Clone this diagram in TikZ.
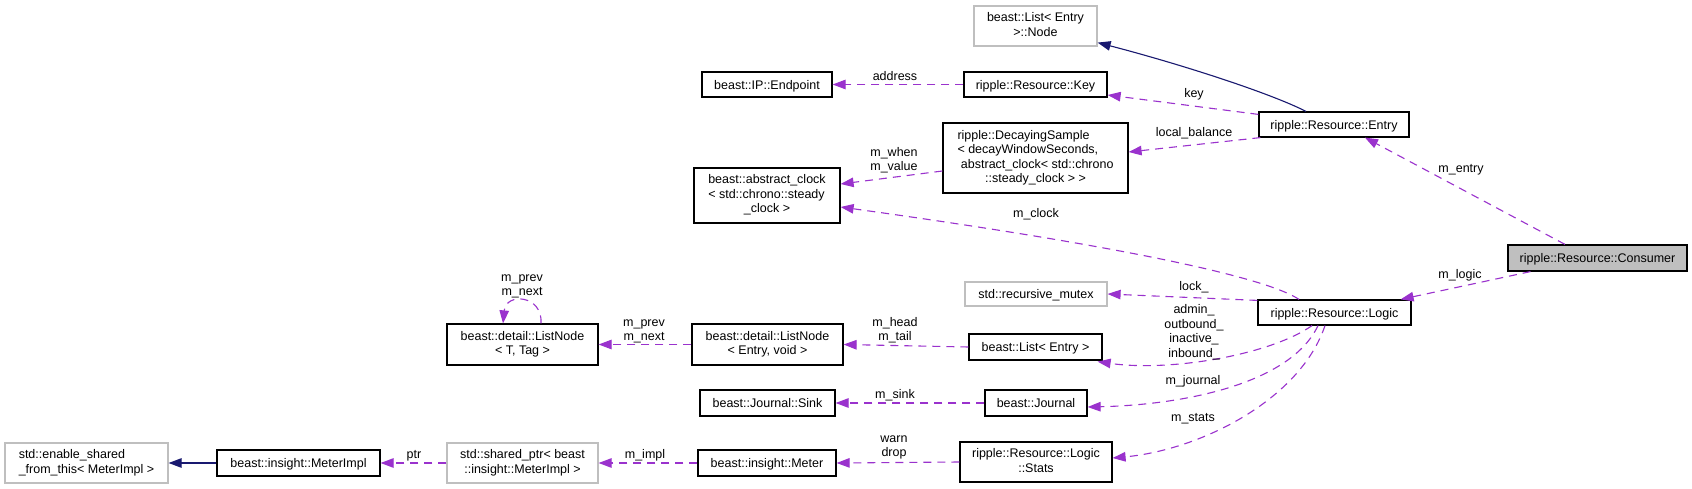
\documentclass[tikz,border=0pt]{standalone}
\usepackage{fontspec}
\setmainfont{Liberation Sans}
\usetikzlibrary{arrows.meta,calc}
\definecolor{orchid}{HTML}{9A32CD}
\definecolor{navyblue}{HTML}{191970}
\definecolor{grayline}{HTML}{BFBFBF}
\newcommand{\ml}[2][c]{\begin{tabular}{@{}#1@{}}#2\end{tabular}}
\tikzset{
  every node/.style={font=\fontsize{12.5}{14.5}\selectfont},
  cls/.style={draw=black, line width=1.2pt, fill=white, inner sep=0pt, text height=9.5pt, text depth=0pt},
  clsm/.style={draw=black, line width=1.2pt, fill=white, inner sep=0pt},
  ext/.style={draw=grayline},
  lbl/.style={inner sep=0pt, text height=8pt, text depth=0pt},
  lblm/.style={inner sep=0pt},
  mem/.style={draw=orchid, line width=1.1pt, dash pattern=on 8pt off 6pt, -{Triangle[length=13pt,width=9.5pt,fill=orchid]}},
  inh/.style={draw=navyblue, line width=1.1pt, -{Triangle[length=13pt,width=9.5pt,fill=navyblue]}},
}
\begin{document}
\begin{tikzpicture}[x=1pt,y=-1pt]
\useasboundingbox (0,0) rectangle (1692,489);
\fill[white] (0,0) rectangle (1692,489);

% nodes
\node[clsm, ext, minimum width=123pt, minimum height=40pt] (lnode) at (1035.5,26) {\ml{beast::List< Entry\\>::Node}};
\node[cls, minimum width=130pt, minimum height=25pt] (endpoint) at (767,84.5) {beast::IP::Endpoint};
\node[cls, minimum width=143pt, minimum height=25pt] (key) at (1035.5,84.5) {ripple::Resource::Key};
\node[clsm, minimum width=185pt, minimum height=70pt] (ds) at (1035.5,158) {\ml[l]{ripple::DecayingSample\\< decayWindowSeconds,\\\ abstract\_clock< std::chrono\\\multicolumn{1}{@{}c@{}}{::steady\_clock > >}}};
\node[clsm, minimum width=146pt, minimum height=55pt] (clock) at (767,195.5) {\ml[l]{beast::abstract\_clock\\< std::chrono::steady\\\multicolumn{1}{@{}c@{}}{\_clock >}}};
\node[cls, minimum width=150pt, minimum height=25pt] (entry) at (1334,124.5) {ripple::Resource::Entry};
\node[cls, fill=grayline, minimum width=179pt, minimum height=26pt] (consumer) at (1597.5,258) {ripple::Resource::Consumer};
\node[cls, minimum width=153pt, minimum height=25pt] (logic) at (1334.5,312.5) {ripple::Resource::Logic};
\node[cls, ext, minimum width=142pt, minimum height=24pt] (mutex) at (1036,294) {std::recursive\_mutex};
\node[clsm, minimum width=151pt, minimum height=41pt] (lnT) at (522.5,344.5) {\ml{beast::detail::ListNode\\< T, Tag >}};
\node[clsm, minimum width=151pt, minimum height=41pt] (lnE) at (767.5,344.5) {\ml{beast::detail::ListNode\\< Entry, void >}};
\node[cls, minimum width=133pt, minimum height=26pt] (listE) at (1035.5,347) {beast::List< Entry >};
\node[cls, minimum width=135pt, minimum height=26pt] (sink) at (767.5,403) {beast::Journal::Sink};
\node[cls, minimum width=102pt, minimum height=26pt] (journal) at (1036,403) {beast::Journal};
\node[cls, minimum width=138pt, minimum height=26pt] (meter) at (767,463) {beast::insight::Meter};
\node[clsm, minimum width=152pt, minimum height=40pt] (stats) at (1036,462) {\ml{ripple::Resource::Logic\\::Stats}};
\node[clsm, ext, minimum width=163pt, minimum height=40pt] (enable) at (86.5,463) {\ml[l]{std::enable\_shared\\\_from\_this< MeterImpl >}};
\node[cls, minimum width=163pt, minimum height=26pt] (meterimpl) at (298.5,463) {beast::insight::MeterImpl};
\node[clsm, ext, minimum width=151pt, minimum height=40pt] (sptr) at (522.5,463) {\ml{std::shared\_ptr< beast\\::insight::MeterImpl >}};

% edges
\draw[inh] ($(entry.north)+(-28,0)$) .. controls (1270,93) and (1180,64) .. ($(lnode.south east)+(0,-4)$);
\draw[mem] (key.west) -- (endpoint.east);
\draw[mem] ($(entry.north west)+(0,3)$) -- ($(key.east)+(0,10.5)$);
\draw[mem] ($(entry.south west)+(2,0)$) -- ($(ds.east)+(0,-6)$);
\draw[mem] ($(ds.west)+(0,13)$) -- ($(clock.east)+(0,-11.5)$);
\draw[mem] ($(logic.north)+(-35.5,0)$) .. controls (1270,280) and (1150,250) .. ($(clock.east)+(0,11.5)$);
\draw[mem] ($(consumer.north)+(-32.5,0)$) -- ($(entry.south)+(31,0)$);
\draw[mem] ($(consumer.south)+(-67,0)$) -- ($(logic.north east)+(-11,0)$);
\draw[mem] ($(logic.north west)+(0,1)$) -- (mutex.east);
\draw[mem] ($(logic.south)+(-22.5,0)$) .. controls (1270,355) and (1170,372) .. ($(listE.south east)+(-5,1)$);
\draw[mem] ($(logic.south)+(-16.5,0)$) .. controls (1290,385) and (1180,405) .. ($(journal.east)+(0,4)$);
\draw[mem] ($(logic.south)+(-9.5,0)$) .. controls (1300,400) and (1200,450) .. ($(stats.east)+(0,-4)$);
\draw[mem] ($(lnT.north)+(18.5,0)$) .. controls (543,295) and (506,292) .. ($(lnT.north)+(-19.5,0)$);
\draw[mem] (lnE.west) -- (lnT.east);
\draw[mem] (listE.west) -- (lnE.east);
\draw[mem] (journal.west) -- (sink.east);
\draw[mem] (stats.west) -- (meter.east);
\draw[mem] (meter.west) -- (sptr.east);
\draw[mem] (sptr.west) -- (meterimpl.east);
\draw[inh] (meterimpl.west) -- (enable.east);

% labels
\node[lbl] (laddr) at (895,77) {address};
\node[lbl] (lkey) at (1194,94) {key};
\node[lbl] (lbal) at (1194,133) {local\_balance};
\node[lblm] (lwhen) at (894,160.5) {\ml{m\_when\\m\_value}};
\node[lbl] (lclock) at (1036,214) {m\_clock};
\node[lbl] (lentry) at (1461,169) {m\_entry};
\node[lbl] (llogic) at (1460,274) {m\_logic};
\node[lbl] (llock) at (1194,286) {lock\_};
\node[lblm] (ladmin) at (1194,332.6) {\ml{admin\_\\outbound\_\\inactive\_\\inbound\_}};
\node[lbl] (ljournal) at (1193,380) {m\_journal};
\node[lbl] (lstats) at (1193,417) {m\_stats};
\node[lblm] (lself) at (522,285.6) {\ml{m\_prev\\m\_next}};
\node[lblm] (lprev) at (644,330.6) {\ml{m\_prev\\m\_next}};
\node[lblm] (lhead) at (895,330.6) {\ml{m\_head\\m\_tail}};
\node[lbl] (lsink) at (895,394) {m\_sink};
\node[lblm] (lwarn) at (894,446.6) {\ml{warn\\drop}};
\node[lbl] (limpl) at (645,454) {m\_impl};
\node[lbl] (lptr) at (414,454) {ptr};
\end{tikzpicture}
\end{document}
